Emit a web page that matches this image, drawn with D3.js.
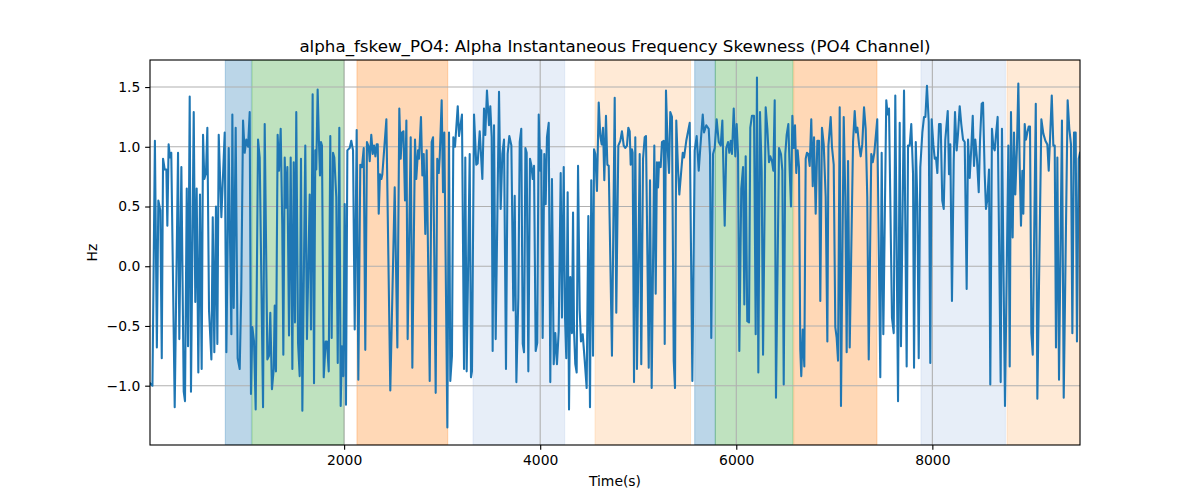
<!DOCTYPE html>
<html>
<head>
<meta charset="utf-8">
<script src="https://cdn.jsdelivr.net/npm/d3@7"></script>
<style>
  body { margin: 0; background: #fff; }
  svg { font-family: "DejaVu Sans", sans-serif; }
</style>
</head>
<body>
<svg id="chart" width="1200" height="500"></svg>
<script>
// time (s) and skewness (Hz)
const times = [
  20,45,70,90,105,125,140,153,170,187,197,210,224,237,272,306,319,340,364,377,395,408,425,438,466,482,496,513,530,547,561,574,591,605,622,646,660,676,693,707,721,748,782,799,823,850,860,
  874,894,914,935,951,969,986,1002,1020,1037,1050,1064,1081,1098,1122,1139,1173,1190,1217,1234,1247,1264,1282,1292,1305,1322,1336,1353,1369,1380,1394,1407,1421,1438,1455,1472,1486,1499,1512,1530,1547,1560,1574,1604,1621,1649,1662,1679,1693,1706,1716,1730,
  1744,1754,1764,1774,1792,1812,1825,1843,1859,1873,1887,1900,1920,1935,1951,1965,1978,1992,2006,2019,2033,2057,2073,2091,2108,2128,2145,2165,2182,2200,2216,2233,2251,2261,2277,2292,2305,2319,2332,2343,2353,2366,2380,2390,2431,2471,2516,2543,2563,2577,2590,
  2605,2621,2635,2648,2679,2696,2723,2736,2754,2764,2784,2798,2812,2828,2842,2873,2893,2907,2934,2950,2965,2975,2995,3009,3022,3053,3070,3083,3100,3114,3131,3159,3172,3202,3223,3236,3250,3281,3294,3304,3325,3348,3362,3383,3410,3427,3440,3457,
  3478,3491,3505,3515,3529,3546,3580,3597,3614,3631,3651,3668,3685,3706,3726,3740,3757,3777,3791,3807,3822,3835,3849,3862,3879,3896,3909,3924,3937,3954,3970,3985,4001,4011,4025,4042,4056,4069,4087,4103,4120,4138,4154,4171,4189,4209,4222,4240,4253,4266,4280,4294,4307,4324,
  4335,4345,4358,4372,4386,4403,4416,4434,4454,4474,4491,4508,4521,4539,4549,4562,4579,4597,4613,4627,4641,4654,4671,4685,4699,4732,4760,4776,4797,4817,4834,4852,4868,4885,4899,4913,4923,4936,4943,4957,4970,4987,5015,5031,5049,5066,5079,5107,5120,5137,5164,5178,5191,
  5202,5212,5229,5242,5260,5270,5283,5301,5314,5327,5344,5362,5375,5388,5406,5419,5436,5454,5467,5490,5525,5552,5576,5596,5617,5633,5658,5671,5694,5719,5732,5745,5763,5780,5800,5821,5841,5858,5882,5898,5916,5929,5943,5956,5974,5990,6004,6018,6031,6051,6069,
  6082,6096,6112,6130,6143,6160,6181,6198,6211,6225,6242,6259,6273,6300,6317,6334,6347,6364,6378,6392,6405,6436,6456,6470,6484,6500,6514,6531,6545,6558,6572,6586,6599,6612,6626,6640,6653,6663,6678,6694,6708,6721,6735,6749,6765,6780,6793,6810,6827,6844,6857,6874,6892,6912,6929,
  6940,6963,6976,6994,7010,7024,7038,7055,7068,7096,7112,7126,7140,7157,7191,7208,7221,7235,7252,7269,7285,7303,7320,7336,7351,7377,7392,7408,7438,7469,7483,7500,7530,7544,7558,7588,7606,7622,7650,7667,7680,7711,7738,7752,7769,7785,7803,
  7813,7831,7847,7861,7877,7898,7915,7929,7945,7963,7979,7993,8010,8024,8037,8051,8068,8085,8101,8116,8132,8157,8170,8183,8200,8218,8231,8248,8262,8279,8295,8313,8330,8350,8364,8381,8397,8412,8425,8438,8455,8473,8486,8503,8517,8534,8547,8561,8578,8591,8608,8622,8636,8649,8666,
  8697,8710,8741,8775,8789,8802,8819,8833,8846,8863,8877,8891,8904,8918,8928,8942,8955,8969,8983,8996,9010,9024,9055,9071,9112,9132,9153,9173,9187,9203,9218,9234,9248,9261,9275,9292,9322,9340,9380,9397,9414,9428,9445,9462,9475,9493,9506
];
const fskew = [
  -0.98,-1.0,1.05,-0.68,0.55,0.47,-0.77,0.9,0.81,0.81,0.34,1.02,0.91,0.95,-1.18,0.95,-0.61,0.83,-1.05,-1.13,0.65,-0.67,1.42,-1.05,1.29,-0.3,0.65,-0.89,0.6,-0.86,1.1,0.73,0.78,1.16,-0.37,-0.78,0.41,-0.72,0.5,-0.65,1.1,0.41,1.12,-0.72,0.99,-0.57,1.27,
  -0.35,1.16,-0.77,-0.86,-0.2,1.22,0.95,1.06,1.0,1.29,-1.07,-0.51,-0.63,-1.2,1.06,0.91,-1.18,1.19,-0.78,-0.75,-0.39,-1.03,-0.86,-0.33,-0.88,1.1,0.8,1.15,0.35,-0.74,0.91,0.49,0.83,-0.58,0.91,-0.86,0.87,-0.47,1.29,-0.64,-0.92,0.9,-1.21,1.01,-0.61,0.6,-0.53,1.44,-0.98,0.97,0.81,1.48,
  1.02,0.76,1.04,1.01,-0.93,-0.63,-0.63,-0.88,1.09,-0.6,0.95,0.91,0.58,-0.81,1.16,-1.17,-0.67,-0.92,0.52,-1.16,0.97,0.99,1.05,0.97,-0.53,1.14,-0.95,0.85,0.83,0.99,-0.7,1.04,1.0,0.88,1.1,0.94,1.01,0.92,1.02,1.02,0.44,0.77,0.73,0.77,1.23,-1.04,0.66,-0.68,1.32,0.9,1.12,
  1.13,0.55,1.22,-0.61,1.08,-0.85,1.06,0.73,0.97,0.9,1.25,0.76,0.94,0.27,0.97,-0.96,1.04,1.08,-1.06,0.9,0.78,0.91,1.39,0.62,1.12,-1.35,1.12,-0.96,-0.75,1.08,1.0,1.34,1.09,1.27,-0.86,0.91,-0.88,0.94,-0.93,-0.88,1.27,0.85,0.86,1.13,0.73,1.32,1.1,1.47,
  1.18,1.34,1.08,-0.71,1.18,-0.61,1.46,0.48,0.94,1.06,-0.86,0.94,1.09,1.01,-0.37,0.59,-0.97,-0.26,1.04,1.15,-0.65,-0.72,0.99,0.95,-0.88,0.9,0.85,0.73,0.84,-0.71,-0.64,1.27,0.8,0.97,-0.6,0.94,0.52,1.08,1.2,-0.97,0.73,-0.82,-0.56,-0.82,-0.54,0.78,-0.43,0.83,-0.42,-0.77,0.62,-1.2,-0.09,-0.56,
  0.45,-0.54,-0.82,-0.89,0.84,-0.37,-0.63,-0.57,-0.79,-1.02,0.42,-1.18,0.72,-0.75,0.98,0.94,0.63,1.37,1.09,1.02,1.16,0.72,1.26,0.85,0.84,-0.75,1.41,-0.39,1.01,1.05,1.13,1.01,0.99,1.01,1.16,1.13,0.85,0.98,0.95,-0.97,1.08,-0.86,0.94,-0.82,0.9,1.08,1.09,-0.85,0.72,-1.02,1.01,-0.23,0.87,
  0.66,0.87,0.83,1.04,1.05,-0.65,1.47,0.97,0.78,1.29,1.25,-0.79,-1.02,1.22,0.81,0.6,0.77,0.95,0.91,1.05,1.2,-0.96,0.97,1.09,0.8,0.99,1.27,1.12,1.18,1.15,0.94,-0.6,0.94,0.99,1.23,1.04,1.01,1.22,0.34,0.99,1.04,0.95,1.05,0.94,1.32,0.92,1.19,0.94,-0.71,0.65,0.83,
  -0.32,0.92,-0.46,-0.47,1.16,1.26,1.26,-0.57,1.58,-0.89,1.29,0.8,-0.74,1.33,1.15,0.87,0.92,0.88,0.8,1.39,-1.1,0.99,0.94,0.8,-0.99,0.94,1.1,1.19,0.8,0.5,1.26,0.99,1.18,0.78,0.97,0.83,-0.7,-0.92,-0.53,-0.84,0.9,0.95,0.94,0.84,1.23,0.67,1.08,0.44,1.05,1.05,-0.29,1.16,1.02,0.58,-0.63,
  1.01,1.25,1.0,0.85,-0.51,-0.6,-0.79,1.33,-1.17,1.25,0.58,-0.72,0.88,-0.68,1.04,1.3,1.12,1.16,1.02,0.92,1.02,1.33,1.15,0.58,-0.78,0.94,0.87,0.95,1.23,-0.93,0.95,-0.57,1.39,1.27,1.32,-0.43,-0.56,1.43,-1.13,1.2,-0.67,1.47,-0.84,1.01,1.01,1.19,0.77,
  -0.85,1.04,0.52,-0.77,0.83,1.12,1.25,1.25,1.51,1.21,-0.81,1.23,1.02,0.9,0.91,0.78,1.19,1.19,0.55,0.48,1.06,1.3,0.77,1.02,-0.29,0.88,1.29,0.97,1.11,1.34,1.19,1.06,1.04,-0.19,1.06,0.74,0.99,1.26,0.84,1.06,0.9,0.62,1.05,1.36,1.37,0.77,0.48,0.56,0.81,-0.99,1.15,1.0,0.97,1.1,1.25,
  -0.97,1.15,-1.17,1.01,-0.84,1.29,0.24,1.12,0.6,1.0,1.53,0.84,0.34,0.8,0.44,1.19,1.06,1.12,1.17,1.17,-0.56,-0.74,1.36,-1.11,1.23,1.11,1.05,1.02,0.8,1.12,1.43,1.01,1.01,-0.68,0.91,-0.95,1.22,-1.1,1.39,1.15,1.02,-0.56,1.12,1.12,-0.63,0.9,0.95
];

// shaded regions
const spanStart = [788, 1060, 2131, 3315, 4559, 5576, 5786, 6586, 7884, 8762];
const spanEnd   = [1054, 1999, 3057, 4250, 5534, 5786, 6579, 7435, 8745, 9600];
const spanKind  = [0, 1, 2, 3, 4, 0, 1, 2, 3, 4];

const xTicks = [2000, 4000, 6000, 8000];
const yTicks = [-1.0, -0.5, 0.0, 0.5, 1.0, 1.5];

const kindColors = ["#1f77b4", "#2ca02c", "#ff7f0e", "#aec7e8", "#ffbb78"];

const margin = { top: 60, right: 120, bottom: 55, left: 150 };
const W = 1200, H = 500;
const width = W - margin.left - margin.right;
const height = H - margin.top - margin.bottom;
const pt = 100 / 72;

const data = times.map((t, i) => ({ t: t, v: fskew[i] }));

const svg = d3.select("#chart");
const g = svg.append("g").attr("transform", `translate(${margin.left},${margin.top})`);

const x = d3.scaleLinear().domain(d3.extent(times)).range([0, width]);
const ext = d3.extent(fskew);
const pad = (ext[1] - ext[0]) * 0.05;
const y = d3.scaleLinear().domain([ext[0] - pad, ext[1] + pad]).range([height, 0]);

g.append("defs").append("clipPath").attr("id", "clip")
  .append("rect").attr("width", width).attr("height", height);

// spans
g.append("g").attr("clip-path", "url(#clip)")
  .selectAll("rect")
  .data(spanStart.map((s, i) => ({ s: s, e: spanEnd[i], k: spanKind[i] })))
  .join("rect")
    .attr("x", d => x(d.s))
    .attr("width", d => x(d.e) - x(d.s))
    .attr("y", 0)
    .attr("height", height)
    .attr("fill", d => kindColors[d.k])
    .attr("fill-opacity", 0.3)
    .attr("stroke", d => kindColors[d.k])
    .attr("stroke-opacity", 0.3)
    .attr("stroke-width", 1);

// grid
g.append("g").selectAll("line").data(xTicks).join("line")
  .attr("x1", d => x(d)).attr("x2", d => x(d))
  .attr("y1", 0).attr("y2", height)
  .attr("stroke", "#b0b0b0").attr("stroke-width", 0.8 * pt);
g.append("g").selectAll("line").data(yTicks).join("line")
  .attr("y1", d => y(d)).attr("y2", d => y(d))
  .attr("x1", 0).attr("x2", width)
  .attr("stroke", "#b0b0b0").attr("stroke-width", 0.8 * pt);

// the series
const line = d3.line().x(d => x(d.t)).y(d => y(d.v));
g.append("path")
  .datum(data)
  .attr("clip-path", "url(#clip)")
  .attr("fill", "none")
  .attr("stroke", "#1f77b4")
  .attr("stroke-width", 1.5 * pt)
  .attr("stroke-linejoin", "round")
  .attr("stroke-linecap", "square")
  .attr("d", line);

// axes
const xAxis = g.append("g")
  .attr("transform", `translate(0,${height})`)
  .call(d3.axisBottom(x).tickValues(xTicks).tickSize(3.5 * pt).tickPadding(3.5 * pt).tickFormat(d3.format("d")));
const yAxis = g.append("g")
  .call(d3.axisLeft(y).tickValues(yTicks).tickSize(3.5 * pt).tickPadding(3.5 * pt).tickFormat(d3.format(".1f")));

[xAxis, yAxis].forEach(a => {
  a.select(".domain").remove();
  a.selectAll(".tick line").attr("stroke", "#000").attr("stroke-width", 0.8 * pt);
  a.selectAll(".tick text").attr("fill", "#000").style("font-size", "13.9px").style("font-family", "DejaVu Sans");
});

// frame
g.append("rect")
  .attr("width", width).attr("height", height)
  .attr("fill", "none").attr("stroke", "#000").attr("stroke-width", 0.8 * pt);

// labels
svg.append("text")
  .attr("x", margin.left + width / 2).attr("y", 52)
  .attr("text-anchor", "middle")
  .style("font-size", "16.7px")
  .text("alpha_fskew_PO4: Alpha Instantaneous Frequency Skewness (PO4 Channel)");

svg.append("text")
  .attr("x", margin.left + width / 2).attr("y", 486)
  .attr("text-anchor", "middle")
  .style("font-size", "13.9px")
  .text("Time(s)");

svg.append("text")
  .attr("transform", `translate(97,${margin.top + height / 2}) rotate(-90)`)
  .attr("text-anchor", "middle")
  .style("font-size", "13.9px")
  .text("Hz");
</script>
</body>
</html>
